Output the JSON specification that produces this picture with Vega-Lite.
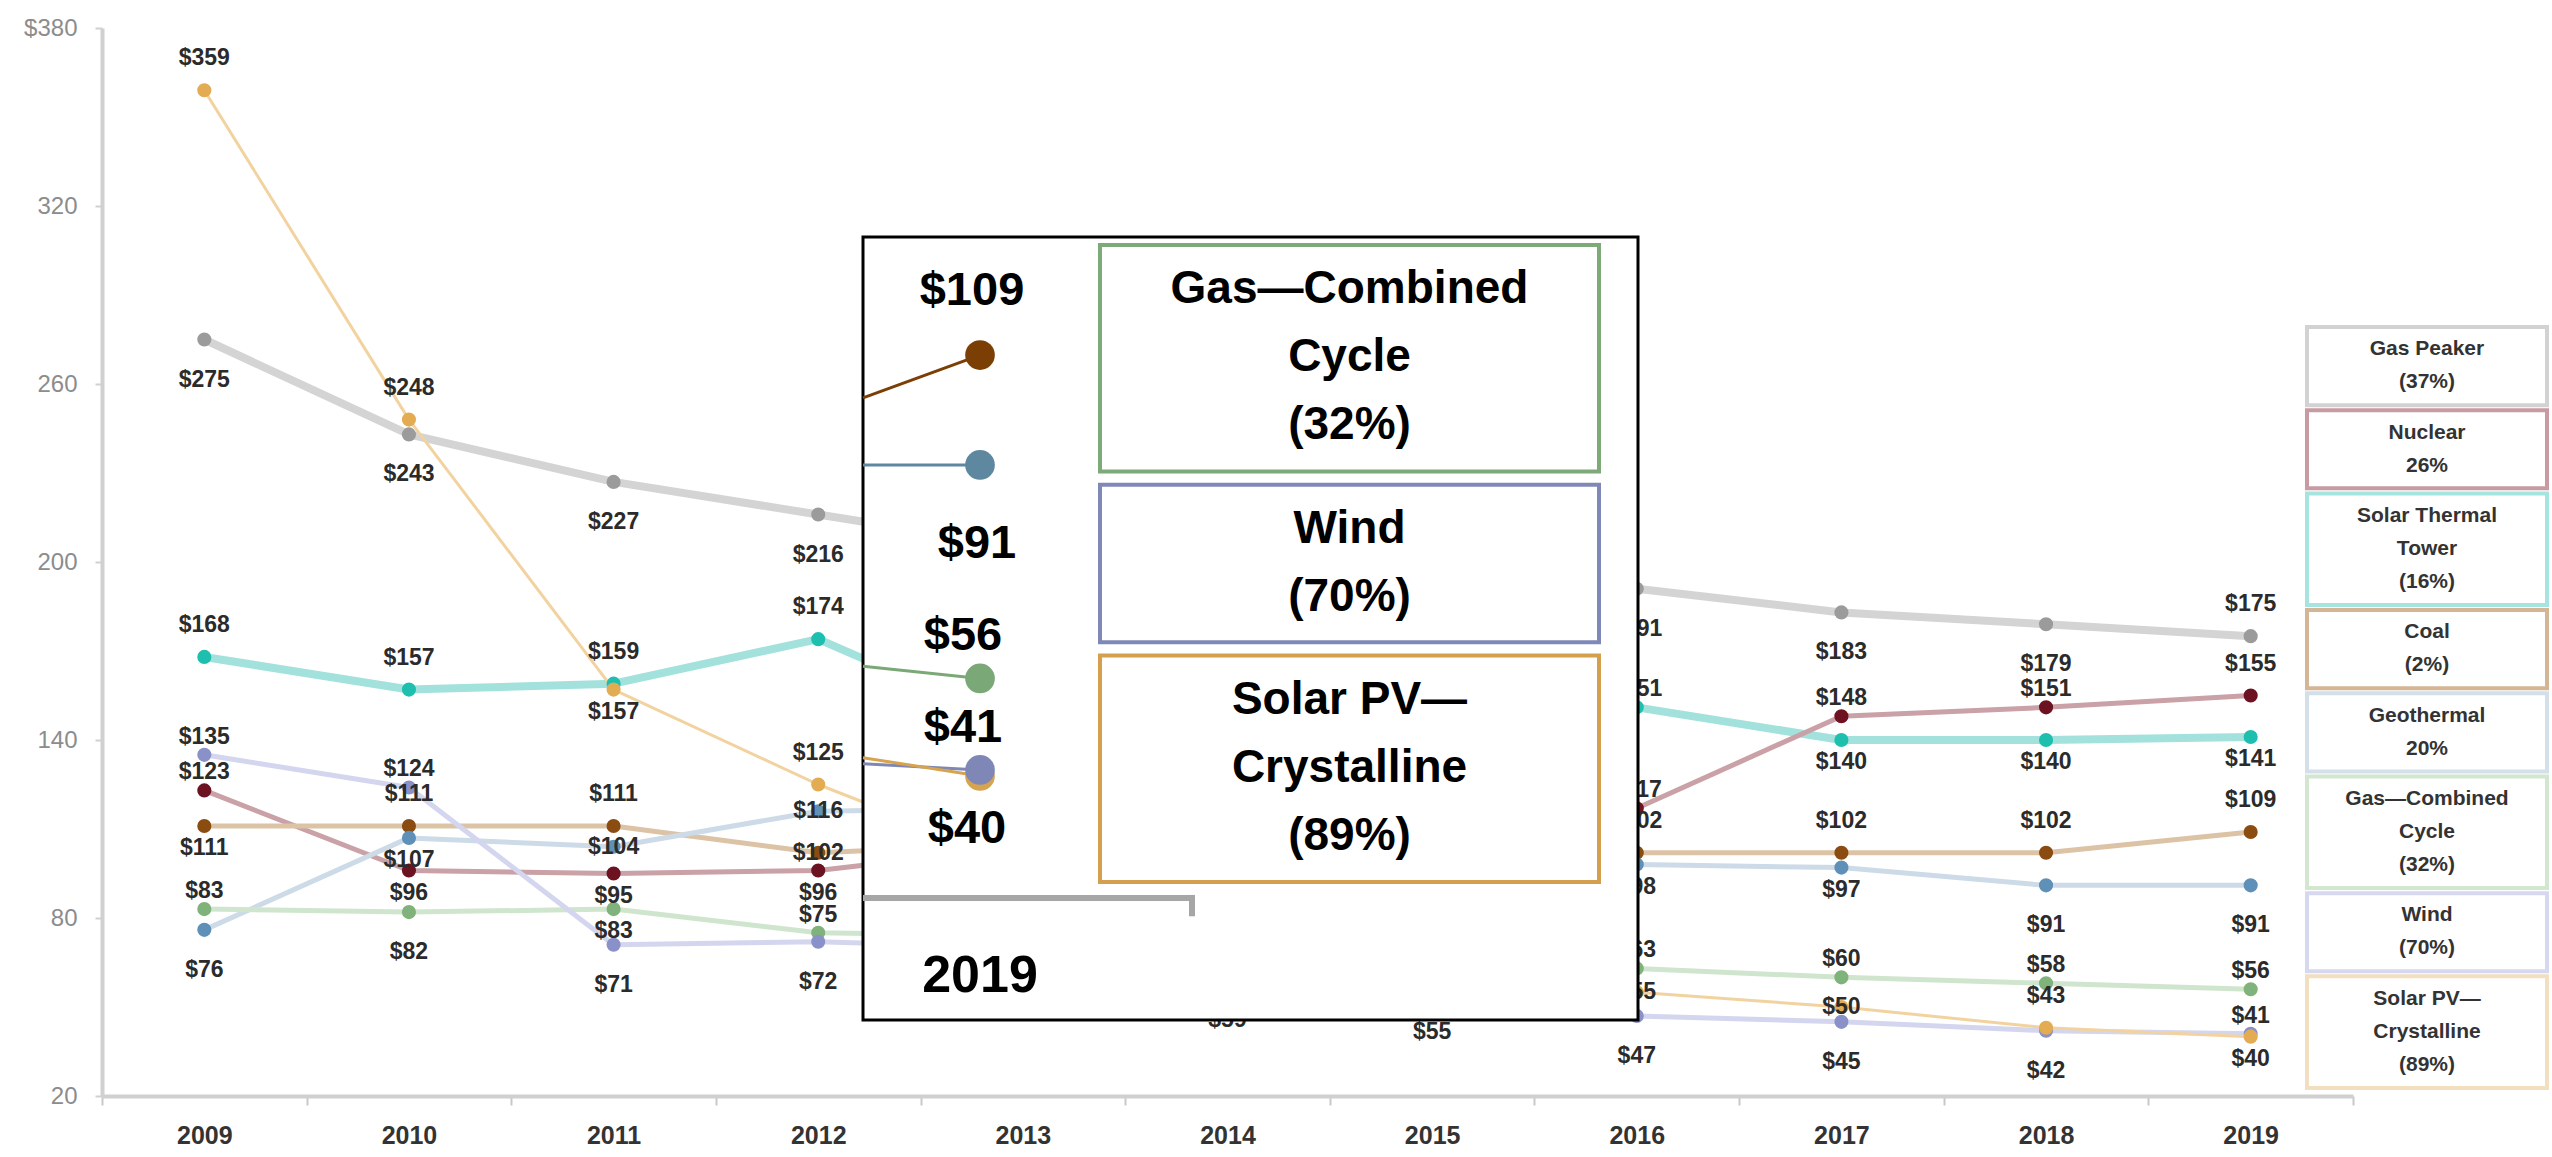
{
  "$schema": "https://vega.github.io/schema/vega-lite/v6.json",
  "width": 2251,
  "height": 1068,
  "autosize": {"type": "none"},
  "padding": {"left": 102, "top": 28, "right": 199, "bottom": 61},
  "background": "white",
  "config": {"view": {"stroke": null}},
  "datasets": {
    "lcoe": [
      {"series": "Gas Peaker", "year": 2009, "value": 275, "label_at": "below"},
      {"series": "Gas Peaker", "year": 2010, "value": 243, "label_at": "below"},
      {"series": "Gas Peaker", "year": 2011, "value": 227, "label_at": "below"},
      {"series": "Gas Peaker", "year": 2012, "value": 216, "label_at": "below"},
      {"series": "Gas Peaker", "year": 2013, "value": 205, "label_at": "below"},
      {"series": "Gas Peaker", "year": 2014, "value": 205, "label_at": "below"},
      {"series": "Gas Peaker", "year": 2015, "value": 192, "label_at": "below"},
      {"series": "Gas Peaker", "year": 2016, "value": 191, "label_at": "below"},
      {"series": "Gas Peaker", "year": 2017, "value": 183, "label_at": "below"},
      {"series": "Gas Peaker", "year": 2018, "value": 179, "label_at": "below"},
      {"series": "Gas Peaker", "year": 2019, "value": 175, "label_at": "above"},
      {"series": "Nuclear", "year": 2009, "value": 123, "label_at": "near above"},
      {"series": "Nuclear", "year": 2010, "value": 96, "label_at": "near below"},
      {"series": "Nuclear", "year": 2011, "value": 95, "label_at": "near below"},
      {"series": "Nuclear", "year": 2012, "value": 96, "label_at": "near below"},
      {"series": "Nuclear", "year": 2013, "value": 104, "label_at": "near below"},
      {"series": "Nuclear", "year": 2014, "value": 112, "label_at": "near above"},
      {"series": "Nuclear", "year": 2015, "value": 117, "label_at": "near above"},
      {"series": "Nuclear", "year": 2016, "value": 117, "label_at": "near above"},
      {"series": "Nuclear", "year": 2017, "value": 148, "label_at": "near above"},
      {"series": "Nuclear", "year": 2018, "value": 151, "label_at": "near above"},
      {"series": "Nuclear", "year": 2019, "value": 155, "label_at": "above"},
      {"series": "Solar Thermal Tower", "year": 2009, "value": 168, "label_at": "above"},
      {"series": "Solar Thermal Tower", "year": 2010, "value": 157, "label_at": "above"},
      {"series": "Solar Thermal Tower", "year": 2011, "value": 159, "label_at": "above"},
      {"series": "Solar Thermal Tower", "year": 2012, "value": 174, "label_at": "above"},
      {"series": "Solar Thermal Tower", "year": 2013, "value": 144, "label_at": "above"},
      {"series": "Solar Thermal Tower", "year": 2014, "value": 150, "label_at": "above"},
      {"series": "Solar Thermal Tower", "year": 2015, "value": 155, "label_at": "above"},
      {"series": "Solar Thermal Tower", "year": 2016, "value": 151, "label_at": "near above"},
      {"series": "Solar Thermal Tower", "year": 2017, "value": 140, "label_at": "near below"},
      {"series": "Solar Thermal Tower", "year": 2018, "value": 140, "label_at": "near below"},
      {"series": "Solar Thermal Tower", "year": 2019, "value": 141, "label_at": "near below"},
      {"series": "Coal", "year": 2009, "value": 111, "label_at": "near below"},
      {"series": "Coal", "year": 2010, "value": 111, "label_at": "above"},
      {"series": "Coal", "year": 2011, "value": 111, "label_at": "above"},
      {"series": "Coal", "year": 2012, "value": 102, "label_at": "on"},
      {"series": "Coal", "year": 2013, "value": 105, "label_at": "above"},
      {"series": "Coal", "year": 2014, "value": 112, "label_at": "above"},
      {"series": "Coal", "year": 2015, "value": 108, "label_at": "above"},
      {"series": "Coal", "year": 2016, "value": 102, "label_at": "above"},
      {"series": "Coal", "year": 2017, "value": 102, "label_at": "above"},
      {"series": "Coal", "year": 2018, "value": 102, "label_at": "above"},
      {"series": "Coal", "year": 2019, "value": 109, "label_at": "above"},
      {"series": "Geothermal", "year": 2009, "value": 76, "label_at": "below"},
      {"series": "Geothermal", "year": 2010, "value": 107, "label_at": "near below"},
      {"series": "Geothermal", "year": 2011, "value": 104, "label_at": "on"},
      {"series": "Geothermal", "year": 2012, "value": 116, "label_at": "on"},
      {"series": "Geothermal", "year": 2013, "value": 117, "label_at": "near below"},
      {"series": "Geothermal", "year": 2014, "value": 116, "label_at": "near below"},
      {"series": "Geothermal", "year": 2015, "value": 117, "label_at": "near below"},
      {"series": "Geothermal", "year": 2016, "value": 98, "label_at": "near below"},
      {"series": "Geothermal", "year": 2017, "value": 97, "label_at": "near below"},
      {"series": "Geothermal", "year": 2018, "value": 91, "label_at": "below"},
      {"series": "Geothermal", "year": 2019, "value": 91, "label_at": "below"},
      {"series": "Gas—Combined Cycle", "year": 2009, "value": 83, "label_at": "near above"},
      {"series": "Gas—Combined Cycle", "year": 2010, "value": 82, "label_at": "below"},
      {"series": "Gas—Combined Cycle", "year": 2011, "value": 83, "label_at": "near below"},
      {"series": "Gas—Combined Cycle", "year": 2012, "value": 75, "label_at": "near above"},
      {"series": "Gas—Combined Cycle", "year": 2013, "value": 74, "label_at": "near above"},
      {"series": "Gas—Combined Cycle", "year": 2014, "value": 74, "label_at": "near above"},
      {"series": "Gas—Combined Cycle", "year": 2015, "value": 74, "label_at": "near above"},
      {"series": "Gas—Combined Cycle", "year": 2016, "value": 63, "label_at": "near above"},
      {"series": "Gas—Combined Cycle", "year": 2017, "value": 60, "label_at": "near above"},
      {"series": "Gas—Combined Cycle", "year": 2018, "value": 58, "label_at": "near above"},
      {"series": "Gas—Combined Cycle", "year": 2019, "value": 56, "label_at": "near above"},
      {"series": "Wind", "year": 2009, "value": 135, "label_at": "near above"},
      {"series": "Wind", "year": 2010, "value": 124, "label_at": "near above"},
      {"series": "Wind", "year": 2011, "value": 71, "label_at": "below"},
      {"series": "Wind", "year": 2012, "value": 72, "label_at": "below"},
      {"series": "Wind", "year": 2013, "value": 70, "label_at": "below"},
      {"series": "Wind", "year": 2014, "value": 59, "label_at": "below"},
      {"series": "Wind", "year": 2015, "value": 55, "label_at": "below"},
      {"series": "Wind", "year": 2016, "value": 47, "label_at": "below"},
      {"series": "Wind", "year": 2017, "value": 45, "label_at": "below"},
      {"series": "Wind", "year": 2018, "value": 42, "label_at": "below"},
      {"series": "Wind", "year": 2019, "value": 41, "label_at": "near above"},
      {"series": "Solar PV—Crystalline", "year": 2009, "value": 359, "label_at": "above"},
      {"series": "Solar PV—Crystalline", "year": 2010, "value": 248, "label_at": "above"},
      {"series": "Solar PV—Crystalline", "year": 2011, "value": 157, "label_at": "near below"},
      {"series": "Solar PV—Crystalline", "year": 2012, "value": 125, "label_at": "above"},
      {"series": "Solar PV—Crystalline", "year": 2013, "value": 98, "label_at": "above"},
      {"series": "Solar PV—Crystalline", "year": 2014, "value": 79, "label_at": "above"},
      {"series": "Solar PV—Crystalline", "year": 2015, "value": 64, "label_at": "above"},
      {"series": "Solar PV—Crystalline", "year": 2016, "value": 55, "label_at": "on"},
      {"series": "Solar PV—Crystalline", "year": 2017, "value": 50, "label_at": "on"},
      {"series": "Solar PV—Crystalline", "year": 2018, "value": 43, "label_at": "above"},
      {"series": "Solar PV—Crystalline", "year": 2019, "value": 40, "label_at": "near below"}
    ],
    "legend": [
      {"series": "Gas Peaker", "label": "Gas Peaker\n(37%)", "lines": 2},
      {"series": "Nuclear", "label": "Nuclear\n26%", "lines": 2},
      {"series": "Solar Thermal Tower", "label": "Solar Thermal\nTower\n(16%)", "lines": 3},
      {"series": "Coal", "label": "Coal\n(2%)", "lines": 2},
      {"series": "Geothermal", "label": "Geothermal\n20%", "lines": 2},
      {"series": "Gas—Combined Cycle", "label": "Gas—Combined\nCycle\n(32%)", "lines": 3},
      {"series": "Wind", "label": "Wind\n(70%)", "lines": 2},
      {"series": "Solar PV—Crystalline", "label": "Solar PV—\nCrystalline\n(89%)", "lines": 3}
    ],
    "inset_legend": [
      {"series": "Gas—Combined Cycle", "label": "Gas—Combined\nCycle\n(32%)", "lines": 3},
      {"series": "Wind", "label": "Wind\n(70%)", "lines": 2},
      {"series": "Solar PV—Crystalline", "label": "Solar PV—\nCrystalline\n(89%)", "lines": 3}
    ]
  },
  "layer": [
    {
      "data": {"name": "lcoe"},
      "encoding": {
        "x": {
          "field": "year", "type": "ordinal",
          "scale": {"type": "band", "paddingInner": 0, "paddingOuter": 0},
          "axis": {
            "title": null, "grid": false, "labelAngle": 0,
            "domainColor": "#d0d0d0", "domainWidth": 4,
            "tickBand": "extent", "tickColor": "#c8c8c8", "tickSize": 9, "tickWidth": 2,
            "labelFont": "Liberation Sans, Arial, sans-serif",
            "labelFontSize": 25, "labelFontWeight": "bold", "labelColor": "#333333", "labelPadding": 18
          }
        },
        "y": {
          "field": "value", "type": "quantitative",
          "scale": {"domain": [20, 380], "nice": false, "zero": false},
          "axis": {
            "title": null, "grid": false,
            "values": [20, 80, 140, 200, 260, 320, 380],
            "labelExpr": "datum.value === 380 ? '$380' : datum.label",
            "domainColor": "#d0d0d0", "domainWidth": 4,
            "tickColor": "#d0d0d0", "tickSize": 7, "tickWidth": 2,
            "labelFont": "Liberation Sans, Arial, sans-serif",
            "labelFontSize": 24, "labelColor": "#8c8c8c", "labelPadding": 18
          }
        }
      },
      "layer": [
        {
          "transform": [{"filter": {"field": "series", "oneOf": ["Gas Peaker", "Solar Thermal Tower"]}}],
          "mark": {"type": "line", "strokeWidth": 8, "strokeJoin": "round", "strokeCap": "round"},
          "encoding": {
            "stroke": {"field": "series", "type": "nominal", "legend": null,
              "scale": {"domain": ["Gas Peaker", "Nuclear", "Solar Thermal Tower", "Coal", "Geothermal", "Gas—Combined Cycle", "Wind", "Solar PV—Crystalline"],
                        "range": ["#d4d4d4", "#c9a1a7", "#a3e2dc", "#dcc3a6", "#ccdbe7", "#d0e5cd", "#d3d6ee", "#f2d3a0"]}}
          }
        },
        {
          "transform": [{"filter": {"field": "series", "oneOf": ["Nuclear", "Coal", "Geothermal", "Gas—Combined Cycle", "Wind"]}}],
          "mark": {"type": "line", "strokeWidth": 5, "strokeJoin": "round", "strokeCap": "round"},
          "encoding": {
            "stroke": {"field": "series", "type": "nominal", "legend": null,
              "scale": {"domain": ["Gas Peaker", "Nuclear", "Solar Thermal Tower", "Coal", "Geothermal", "Gas—Combined Cycle", "Wind", "Solar PV—Crystalline"],
                        "range": ["#d4d4d4", "#c9a1a7", "#a3e2dc", "#dcc3a6", "#ccdbe7", "#d0e5cd", "#d3d6ee", "#f2d3a0"]}}
          }
        },
        {
          "transform": [{"filter": {"field": "series", "oneOf": ["Solar PV—Crystalline"]}}],
          "mark": {"type": "line", "strokeWidth": 3, "strokeJoin": "round", "strokeCap": "round"},
          "encoding": {
            "stroke": {"field": "series", "type": "nominal", "legend": null,
              "scale": {"domain": ["Gas Peaker", "Nuclear", "Solar Thermal Tower", "Coal", "Geothermal", "Gas—Combined Cycle", "Wind", "Solar PV—Crystalline"],
                        "range": ["#d4d4d4", "#c9a1a7", "#a3e2dc", "#dcc3a6", "#ccdbe7", "#d0e5cd", "#d3d6ee", "#f2d3a0"]}}
          }
        },
        {
          "mark": {"type": "circle", "size": 200, "opacity": 1},
          "encoding": {
            "fill": {"field": "series", "type": "nominal", "legend": null,
              "scale": {"domain": ["Gas Peaker", "Nuclear", "Solar Thermal Tower", "Coal", "Geothermal", "Gas—Combined Cycle", "Wind", "Solar PV—Crystalline"],
                        "range": ["#9b9b9b", "#6d1220", "#1fbfb0", "#8a4c10", "#5e90b8", "#80b27b", "#8a91c9", "#e3ab52"]}}
          }
        },
        {
          "transform": [{"filter": "datum.label_at === 'above'"}],
          "mark": {"type": "text", "dy": -32, "font": "Liberation Sans, Arial, sans-serif", "fontSize": 23, "fontWeight": "bold", "fill": "#2b2b2b"},
          "encoding": {"text": {"field": "value", "type": "quantitative", "format": "$.0f"}}
        },
        {
          "transform": [{"filter": "datum.label_at === 'near above'"}],
          "mark": {"type": "text", "dy": -18, "font": "Liberation Sans, Arial, sans-serif", "fontSize": 23, "fontWeight": "bold", "fill": "#2b2b2b"},
          "encoding": {"text": {"field": "value", "type": "quantitative", "format": "$.0f"}}
        },
        {
          "transform": [{"filter": "datum.label_at === 'on'"}],
          "mark": {"type": "text", "dy": 0, "font": "Liberation Sans, Arial, sans-serif", "fontSize": 23, "fontWeight": "bold", "fill": "#2b2b2b"},
          "encoding": {"text": {"field": "value", "type": "quantitative", "format": "$.0f"}}
        },
        {
          "transform": [{"filter": "datum.label_at === 'near below'"}],
          "mark": {"type": "text", "dy": 22, "font": "Liberation Sans, Arial, sans-serif", "fontSize": 23, "fontWeight": "bold", "fill": "#2b2b2b"},
          "encoding": {"text": {"field": "value", "type": "quantitative", "format": "$.0f"}}
        },
        {
          "transform": [{"filter": "datum.label_at === 'below'"}],
          "mark": {"type": "text", "dy": 40, "font": "Liberation Sans, Arial, sans-serif", "fontSize": 23, "fontWeight": "bold", "fill": "#2b2b2b"},
          "encoding": {"text": {"field": "value", "type": "quantitative", "format": "$.0f"}}
        }
      ]
    },
    {
      "data": {"name": "legend"},
      "transform": [
        {"window": [{"op": "sum", "field": "lines", "as": "cum"}, {"op": "row_number", "as": "idx"}]},
        {"calculate": "datum.cum - datum.lines + (datum.idx - 1) * 0.483", "as": "top"},
        {"calculate": "datum.top + datum.lines + 0.333", "as": "bottom"},
        {"calculate": "(datum.top + datum.bottom) / 2 - (datum.lines - 1) / 2", "as": "first_line"}
      ],
      "layer": [
        {
          "mark": {"type": "rect", "fill": "white", "strokeWidth": 4},
          "encoding": {
            "x": {"datum": 0, "type": "quantitative", "scale": {"domain": [0, 1], "range": [2205, 2445], "nice": false, "zero": false}, "axis": null},
            "x2": {"datum": 1},
            "y": {"field": "top", "type": "quantitative", "scale": {"domain": [0, 22.714], "range": [299, 1060], "nice": false, "zero": false}, "axis": null},
            "y2": {"field": "bottom"},
            "stroke": {"field": "series", "type": "nominal", "legend": null,
              "scale": {"domain": ["Gas Peaker", "Nuclear", "Solar Thermal Tower", "Coal", "Geothermal", "Gas—Combined Cycle", "Wind", "Solar PV—Crystalline"],
                        "range": ["#d2d2d2", "#c79ba1", "#a6e4df", "#d4b595", "#d3e0ea", "#d3e6d0", "#d6d8ef", "#f2dfc0"]}}
          }
        },
        {
          "mark": {"type": "text", "lineBreak": "\n", "lineHeight": 33, "align": "center", "baseline": "middle", "font": "Liberation Sans, Arial, sans-serif", "fontSize": 21, "fontWeight": "bold", "fill": "#333333"},
          "encoding": {
            "x": {"datum": 0.5, "type": "quantitative", "scale": {"domain": [0, 1], "range": [2205, 2445], "nice": false, "zero": false}, "axis": null},
            "y": {"field": "first_line", "type": "quantitative", "scale": {"domain": [0, 22.714], "range": [299, 1060], "nice": false, "zero": false}, "axis": null},
            "text": {"field": "label", "type": "nominal"}
          }
        }
      ]
    },
    {
      "layer": [
        {
          "data": {"values": [{}]},
          "mark": {"type": "rect", "fill": "white", "stroke": "black", "strokeWidth": 3},
          "encoding": {
            "x": {"datum": 2018.724, "type": "quantitative", "scale": {"domain": [2018.724, 2020.552], "range": [761, 1536], "nice": false, "zero": false, "clamp": true}, "axis": null},
            "x2": {"datum": 2020.552},
            "y": {"datum": 0, "type": "quantitative", "scale": {"domain": [0, 128.36], "range": [992, 209], "nice": false, "zero": false, "clamp": true}, "axis": null},
            "y2": {"datum": 128.36}
          }
        },
        {
          "data": {"values": [{}]},
          "mark": {"type": "rule", "color": "#a6a6a6", "strokeWidth": 6},
          "encoding": {
            "x": {"datum": 2018.724, "type": "quantitative", "scale": {"domain": [2018.724, 2020.552], "range": [761, 1536], "nice": false, "zero": false, "clamp": true}, "axis": null},
            "x2": {"datum": 2019.5},
            "y": {"datum": 20, "type": "quantitative", "scale": {"domain": [0, 128.36], "range": [992, 209], "nice": false, "zero": false, "clamp": true}, "axis": null}
          }
        },
        {
          "data": {"values": [{}]},
          "mark": {"type": "rule", "color": "#a6a6a6", "strokeWidth": 6},
          "encoding": {
            "x": {"datum": 2019.5, "type": "quantitative", "scale": {"domain": [2018.724, 2020.552], "range": [761, 1536], "nice": false, "zero": false, "clamp": true}, "axis": null},
            "y": {"datum": 20.5, "type": "quantitative", "scale": {"domain": [0, 128.36], "range": [992, 209], "nice": false, "zero": false, "clamp": true}, "axis": null},
            "y2": {"datum": 17}
          }
        },
        {
          "data": {"values": [{}]},
          "mark": {"type": "text", "dy": 78, "align": "center", "baseline": "middle", "font": "Liberation Sans, Arial, sans-serif", "fontSize": 52, "fontWeight": "bold", "fill": "black", "text": "2019"},
          "encoding": {
            "x": {"datum": 2019, "type": "quantitative", "scale": {"domain": [2018.724, 2020.552], "range": [761, 1536], "nice": false, "zero": false, "clamp": true}, "axis": null},
            "y": {"datum": 20, "type": "quantitative", "scale": {"domain": [0, 128.36], "range": [992, 209], "nice": false, "zero": false, "clamp": true}, "axis": null}
          }
        },
        {
          "data": {"name": "lcoe"},
          "transform": [
            {"filter": {"field": "series", "oneOf": ["Coal", "Geothermal", "Gas—Combined Cycle", "Solar PV—Crystalline", "Wind"]}},
            {"filter": {"field": "year", "gte": 2018}}
          ],
          "encoding": {
            "x": {"field": "year", "type": "quantitative", "scale": {"domain": [2018.724, 2020.552], "range": [761, 1536], "nice": false, "zero": false, "clamp": true}, "axis": null},
            "y": {"field": "value", "type": "quantitative", "scale": {"domain": [0, 128.36], "range": [992, 209], "nice": false, "zero": false, "clamp": true}, "axis": null}
          },
          "layer": [
            {
              "mark": {"type": "line", "strokeWidth": 3},
              "encoding": {
                "stroke": {"field": "series", "type": "nominal", "legend": null,
                  "scale": {"domain": ["Coal", "Geothermal", "Gas—Combined Cycle", "Solar PV—Crystalline", "Wind"],
                            "range": ["#7b3f05", "#5e87a0", "#7aa876", "#d6a34f", "#7e87b6"]}}
              }
            },
            {
              "transform": [{"filter": {"field": "year", "equal": 2019}}],
              "layer": [
                {
                  "mark": {"type": "circle", "size": 880, "opacity": 1},
                  "encoding": {
                    "fill": {"field": "series", "type": "nominal", "legend": null,
                      "scale": {"domain": ["Coal", "Geothermal", "Gas—Combined Cycle", "Solar PV—Crystalline", "Wind"],
                                "range": ["#7b3f05", "#5e87a0", "#7aa876", "#d6a34f", "#7e87b6"]}},
                    "order": {"field": "value", "type": "quantitative", "sort": "ascending"}
                  }
                },
                {
                  "transform": [{"filter": "datum.label_at === 'above'"}],
                  "mark": {"type": "text", "dy": -64, "dx": -8, "font": "Liberation Sans, Arial, sans-serif", "fontSize": 47, "fontWeight": "bold", "fill": "black"},
                  "encoding": {"text": {"field": "value", "type": "quantitative", "format": "$.0f"}}
                },
                {
                  "transform": [{"filter": "datum.label_at === 'near above'"}],
                  "mark": {"type": "text", "dy": -42, "dx": -17, "font": "Liberation Sans, Arial, sans-serif", "fontSize": 47, "fontWeight": "bold", "fill": "black"},
                  "encoding": {"text": {"field": "value", "type": "quantitative", "format": "$.0f"}}
                },
                {
                  "transform": [{"filter": "datum.label_at === 'near below'"}],
                  "mark": {"type": "text", "dy": 53, "dx": -13, "font": "Liberation Sans, Arial, sans-serif", "fontSize": 47, "fontWeight": "bold", "fill": "black"},
                  "encoding": {"text": {"field": "value", "type": "quantitative", "format": "$.0f"}}
                },
                {
                  "transform": [{"filter": "datum.label_at === 'below'"}],
                  "mark": {"type": "text", "dy": 79, "dx": -3, "font": "Liberation Sans, Arial, sans-serif", "fontSize": 47, "fontWeight": "bold", "fill": "black"},
                  "encoding": {"text": {"field": "value", "type": "quantitative", "format": "$.0f"}}
                }
              ]
            }
          ]
        }
      ]
    },
    {
      "data": {"name": "inset_legend"},
      "transform": [
        {"window": [{"op": "sum", "field": "lines", "as": "cum"}, {"op": "row_number", "as": "idx"}]},
        {"calculate": "datum.cum - datum.lines + (datum.idx - 1) * 0.48", "as": "top"},
        {"calculate": "datum.top + datum.lines + 0.29", "as": "bottom"},
        {"calculate": "(datum.top + datum.bottom) / 2 - (datum.lines - 1) / 2", "as": "first_line"}
      ],
      "layer": [
        {
          "mark": {"type": "rect", "fill": "white", "strokeWidth": 4},
          "encoding": {
            "x": {"datum": 0, "type": "quantitative", "scale": {"domain": [0, 1], "range": [998, 1497], "nice": false, "zero": false}, "axis": null},
            "x2": {"datum": 1},
            "y": {"field": "top", "type": "quantitative", "scale": {"domain": [0, 9.25], "range": [217, 854], "nice": false, "zero": false}, "axis": null},
            "y2": {"field": "bottom"},
            "stroke": {"field": "series", "type": "nominal", "legend": null,
              "scale": {"domain": ["Gas—Combined Cycle", "Wind", "Solar PV—Crystalline"], "range": ["#7daa78", "#8088b8", "#d4a04e"]}}
          }
        },
        {
          "mark": {"type": "text", "lineBreak": "\n", "lineHeight": 68, "align": "center", "baseline": "middle", "font": "Liberation Sans, Arial, sans-serif", "fontSize": 46, "fontWeight": "bold", "fill": "black"},
          "encoding": {
            "x": {"datum": 0.5, "type": "quantitative", "scale": {"domain": [0, 1], "range": [998, 1497], "nice": false, "zero": false}, "axis": null},
            "y": {"field": "first_line", "type": "quantitative", "scale": {"domain": [0, 9.25], "range": [217, 854], "nice": false, "zero": false}, "axis": null},
            "text": {"field": "label", "type": "nominal"}
          }
        }
      ]
    }
  ],
  "resolve": {"scale": {"x": "independent", "y": "independent", "stroke": "independent", "fill": "independent"}}
}
